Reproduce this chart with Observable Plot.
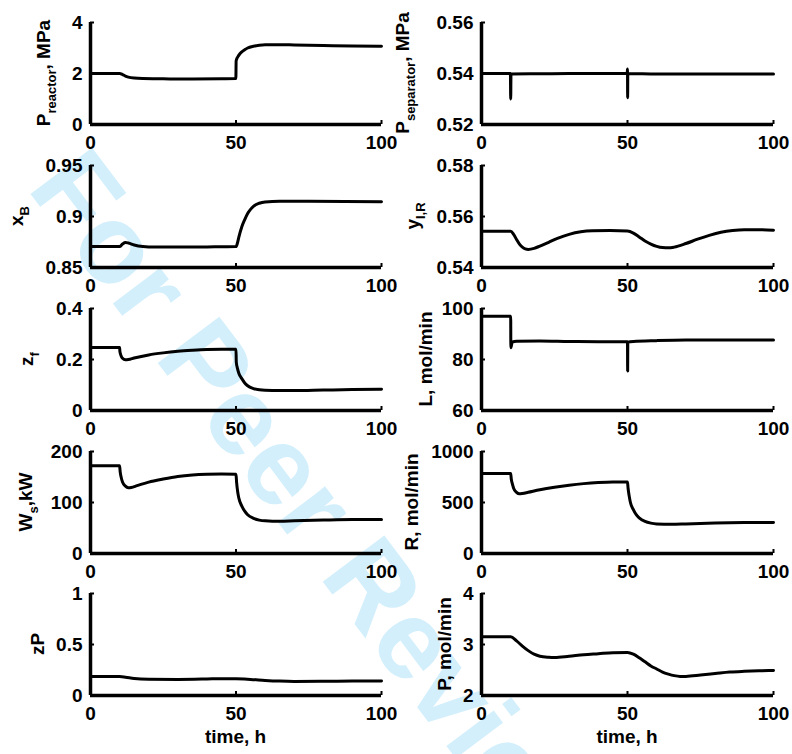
<!DOCTYPE html>
<html><head><meta charset="utf-8">
<script src="https://cdn.jsdelivr.net/npm/d3@7"></script>
<script src="https://cdn.jsdelivr.net/npm/@observablehq/plot@0.6"></script>
<style>
body{margin:0;background:#fff;}
#root{position:relative;width:792px;height:754px;overflow:hidden;font-family:"Liberation Sans",Arial,sans-serif;}
#root svg{position:absolute;}
</style></head><body><div id="root"></div>
<script>
// ---- data ----
const xTicks = [0, 50, 100];
const xLabel = "time, h";
const watermark = "For Peer Review";

const tPr = [0,10,11,12,13,15,18,25,35,45,49.95,50.05,51,52,53,54,56,58,60,65,70,80,90,100];
const vPr = [2.0,2.0,1.96,1.9,1.86,1.82,1.8,1.79,1.78,1.79,1.8,2.5,2.72,2.85,2.93,3.0,3.07,3.11,3.13,3.13,3.12,3.1,3.08,3.07];
const ticksPr = [0,2,4];

const tPs = [0,9.9,10,10.1,20,30,49.9,50,50.05,50.1,60,100];
const vPs = [0.54,0.54,0.53,0.5398,0.5399,0.54,0.54,0.5418,0.5305,0.54,0.5398,0.5398];
const ticksPs = [0.52,0.54,0.56];

const tXB = [0,10,11,12,13,15,18,22,30,40,50,50.5,51,52,53,54,55,56,58,60,65,75,100];
const vXB = [0.8705,0.8705,0.873,0.8745,0.874,0.872,0.8705,0.870,0.870,0.8702,0.8705,0.874,0.88,0.89,0.897,0.903,0.907,0.910,0.913,0.9143,0.915,0.915,0.9145];
const ticksXB = [0.85,0.9,0.95];

const tYR = [0,10,11,12,13,14,15,16,18,20,23,26,30,34,38,44,50,52,54,56,58,60,62,64,66,70,74,78,82,86,90,95,100];
const vYR = [0.5542,0.5542,0.5530,0.5510,0.5492,0.5480,0.5473,0.5471,0.5475,0.5484,0.5499,0.5514,0.5530,0.5540,0.5544,0.5545,0.5543,0.5535,0.5520,0.5504,0.5492,0.5483,0.5478,0.5477,0.5480,0.5494,0.5511,0.5526,0.5538,0.5545,0.5548,0.5548,0.5546];
const ticksYR = [0.54,0.56,0.58];

const tZf = [0,10,10.1,10.5,11,12,13,15,20,25,30,35,40,45,50,50.1,50.5,51,52,53,54,56,58,60,65,70,80,90,100];
const vZf = [0.247,0.247,0.232,0.215,0.205,0.199,0.2,0.206,0.218,0.226,0.232,0.236,0.239,0.24,0.24,0.19,0.165,0.145,0.125,0.108,0.097,0.086,0.081,0.079,0.078,0.078,0.08,0.082,0.083];
const ticksZf = [0,0.2,0.4];

const tL = [0,10,10.05,10.5,12,20,30,40,50,50.05,50.1,52,60,70,80,100];
const vL = [97,97,84.6,86.8,87.2,87.3,87.1,87,87,75.5,86.8,87.1,87.4,87.6,87.6,87.6];
const ticksL = [60,80,100];

const tWs = [0,10,10.2,10.6,11,12,13,14,16,20,25,30,35,40,45,50,50.2,50.6,51,52,53,54,56,58,60,65,70,80,90,100];
const vWs = [172,172,160,148,140,132,129,129.5,133,140,146,151,154,155.5,156,155.5,140,120,108,93,83,76,69,65.5,64,63,64,65.5,66.5,66.5];
const ticksWs = [0,100,200];

const tR = [0,10,10.2,10.6,11,12,13,14,16,20,25,30,35,40,45,50,50.2,50.6,51,52,53,54,56,58,60,65,70,80,90,100];
const vR = [785,785,730,680,640,600,585,588,600,625,650,670,685,695,700,700,640,560,500,430,380,350,315,298,290,287,290,298,303,305];
const ticksR = [0,500,1000];

const tZP = [0,10,12,15,20,30,40,45,50,55,60,65,70,80,90,100];
const vZP = [0.186,0.186,0.18,0.167,0.16,0.158,0.162,0.165,0.163,0.158,0.148,0.141,0.138,0.139,0.141,0.142];
const ticksZP = [0,0.5,1];

const tP = [0,10,12,14,16,18,20,23,25,30,35,40,45,50,52,54,56,58,60,62,64,66,68,70,75,80,85,90,95,100];
const vP = [3.15,3.15,3.07,2.97,2.88,2.81,2.77,2.75,2.745,2.77,2.8,2.82,2.84,2.845,2.81,2.74,2.66,2.58,2.52,2.46,2.42,2.39,2.375,2.375,2.4,2.43,2.46,2.475,2.485,2.49];
const ticksP = [2,3,4];

// y-axis labels: [main, subscript, rest]
const labPr = ["P","reactor",", MPa"];
const labPs = ["P","separator",", MPa"];
const labXB = ["x","B",""];
const labYR = ["y","I,R",""];
const labZf = ["z","f",""];
const labL  = ["L, mol/min","",""];
const labWs = ["W","s",",kW"];
const labR  = ["R, mol/min","",""];
const labZP = ["zP","",""];
const labP  = ["P, mol/min","",""];

// ---- layout ----
const FONT = "Liberation Sans, Arial, Helvetica, sans-serif";
const colLeft = [90, 481], colRight = [381, 773];
const rowTop = [22, 165, 308, 451, 593];
const plotH = 102;

const panels = [
  {t:tPr, v:vPr, y:[0,4], ticks:ticksPr, col:0, row:0, lab:labPr, lx:50},
  {t:tPs, v:vPs, y:[0.52,0.56], ticks:ticksPs, col:1, row:0, lab:labPs, lx:409},
  {t:tXB, v:vXB, y:[0.85,0.95], ticks:ticksXB, col:0, row:1, lab:labXB, lx:23},
  {t:tYR, v:vYR, y:[0.54,0.58], ticks:ticksYR, col:1, row:1, lab:labYR, lx:419},
  {t:tZf, v:vZf, y:[0,0.4], ticks:ticksZf, col:0, row:2, lab:labZf, lx:33},
  {t:tL, v:vL, y:[60,100], ticks:ticksL, col:1, row:2, lab:labL, lx:432},
  {t:tWs, v:vWs, y:[0,200], ticks:ticksWs, col:0, row:3, lab:labWs, lx:32},
  {t:tR, v:vR, y:[0,1000], ticks:ticksR, col:1, row:3, lab:labR, lx:418},
  {t:tZP, v:vZP, y:[0,1], ticks:ticksZP, col:0, row:4, lab:labZP, lx:44},
  {t:tP, v:vP, y:[2,4], ticks:ticksP, col:1, row:4, lab:labP, lx:451}
];

const root = document.getElementById("root");

// watermark (behind everything)
const wm = d3.select(root).append("svg").attr("width",792).attr("height",754).style("left","0px").style("top","0px");
wm.append("text")
  .attr("transform","translate(26,188) rotate(53)")
  .attr("font-family", FONT).attr("font-weight","bold").attr("font-size",112)
  .attr("fill","#d3effc").text(watermark);

for (const p of panels) {
  const svgLeft = p.col * 396;
  const W = 396;
  const mL = colLeft[p.col] - svgLeft;
  const mR = svgLeft + W - colRight[p.col];
  const top = rowTop[p.row] - 20;
  const mB = 60;
  const H = 20 + plotH + mB;
  const plotW = colRight[p.col] - colLeft[p.col];
  const data = p.t.map((t, i) => ({t, v: p.v[i]}));
  const chart = Plot.plot({
    width: W, height: H,
    marginLeft: mL, marginRight: mR, marginTop: 20, marginBottom: mB,
    style: {background: "transparent", fontFamily: FONT, fontSize: "19px", fontWeight: "bold", color: "#000", overflow: "visible"},
    x: {domain: [0, 100]},
    y: {domain: p.y},
    marks: [
      Plot.ruleX([0], {strokeWidth: 3.5, stroke: "#000"}),
      Plot.ruleY([p.y[0]], {strokeWidth: 3.5, stroke: "#000"}),
      Plot.ruleX(xTicks, {x: d => d, insetTop: plotH - 4, strokeWidth: 2, stroke: "#000"}),
      Plot.ruleY(p.ticks, {y: d => d, insetRight: plotW - 4, strokeWidth: 2, stroke: "#000"}),
      Plot.axisX({ticks: xTicks, tickSize: 0, tickPadding: 11, tickFormat: d => String(d), label: null}),
      Plot.axisY({ticks: p.ticks, tickSize: 0, tickPadding: 8, tickFormat: d => String(d), label: null}),
      Plot.lineY(data, {x: "t", y: "v", strokeWidth: 3, stroke: "#000", curve: "monotone-x", strokeLinejoin: "round"})
    ]
  });
  chart.style.left = svgLeft + "px";
  chart.style.top = top + "px";
  root.appendChild(chart);

  const svg = d3.select(chart);
  const ly = 20 + plotH / 2;
  const t = svg.append("text")
    .attr("transform", `translate(${p.lx - svgLeft},${ly}) rotate(-90)`)
    .attr("text-anchor", "middle")
    .attr("font-family", FONT).attr("font-weight", "bold").attr("font-size", 19).attr("fill", "#000");
  t.append("tspan").text(p.lab[0]);
  if (p.lab[1]) {
    t.append("tspan").attr("font-size", 13).attr("dy", 6).text(p.lab[1]);
    if (p.lab[2]) t.append("tspan").attr("dy", -6).text(p.lab[2]);
  }
  if (p.row === 4) {
    svg.append("text")
      .attr("x", (colLeft[p.col] + colRight[p.col]) / 2 - svgLeft)
      .attr("y", 743 - top)
      .attr("text-anchor", "middle")
      .attr("font-family", FONT).attr("font-weight", "bold").attr("font-size", 19).attr("fill", "#000")
      .text(xLabel);
  }
}
</script></body></html>
